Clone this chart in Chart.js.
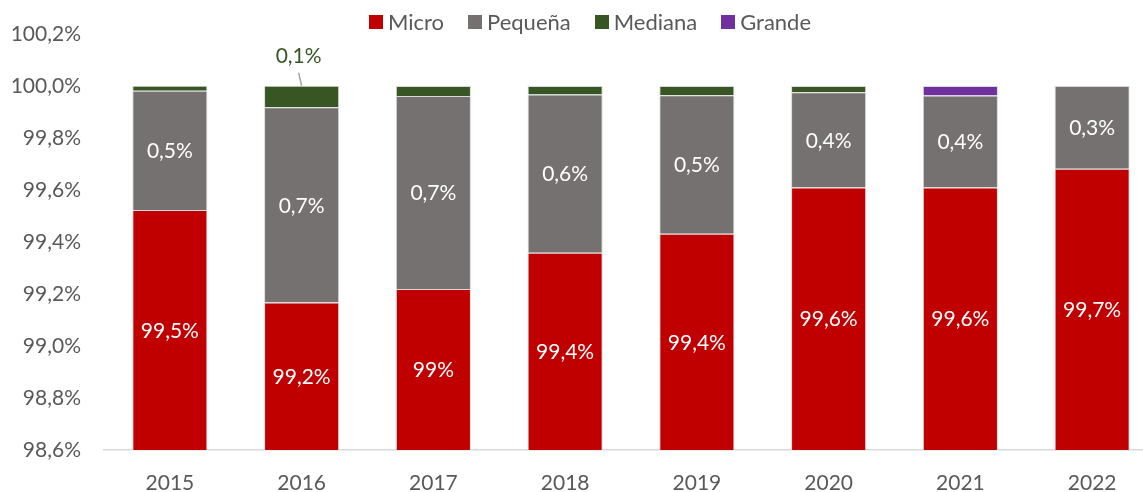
<!DOCTYPE html>
<html><head><meta charset="utf-8">
<script src="https://cdn.jsdelivr.net/npm/chart.js@4/dist/chart.umd.min.js"></script>
<style>
html,body{margin:0;padding:0;background:#fff;overflow:hidden;width:1143px;height:492px;}
#wrap{position:relative;width:1180px;height:492px;}
#legend{position:absolute;left:0;top:10px;width:1180px;display:flex;justify-content:center;gap:24px;font-family:Lato,sans-serif;font-size:22px;color:#595959;line-height:24px;z-index:2}
.item{display:flex;align-items:center;gap:5px}
.sw{width:14px;height:14px;display:inline-block}
canvas{position:absolute;left:0;top:0}
</style></head><body>
<div id="wrap"><div id="legend"></div><canvas id="c" width="1180" height="492"></canvas></div>
<script>
const years = ['2015','2016','2017','2018','2019','2020','2021','2022'];
const micro   = [99.523, 99.167, 99.219, 99.359, 99.432, 99.610, 99.610, 99.682];
const pequena = [0.459, 0.751, 0.743, 0.608, 0.532, 0.366, 0.353, 0.318];
const mediana = [0.019, 0.083, 0.038, 0.033, 0.036, 0.024, null, null];
const grande  = [null, null, null, null, null, null, 0.037, null];
const microLabels   = ['99,5%','99,2%','99%','99,4%','99,4%','99,6%','99,6%','99,7%'];
const pequenaLabels = ['0,5%','0,7%','0,7%','0,6%','0,5%','0,4%','0,4%','0,3%'];
const medianaLabels = ['','0,1%','','','','','',''];
const seriesNames = ['Micro','Pequeña','Mediana','Grande'];
const seriesColors = ['#C00000','#767171','#375623','#7030A0'];
const yMin = 98.6, yMax = 100.2, yStep = 0.2;

const FONT = 'Lato, sans-serif';
const TXT = '#595959';

const lg = document.getElementById('legend');
seriesNames.forEach((n,i)=>{
  const it = document.createElement('div'); it.className='item';
  const sw = document.createElement('span'); sw.className='sw'; sw.style.background=seriesColors[i];
  const t = document.createElement('span'); t.textContent=n;
  it.appendChild(sw); it.appendChild(t); lg.appendChild(it);
});

const segLabels = {
  id:'segLabels',
  afterDatasetsDraw(chart){
    const {ctx, chartArea} = chart;
    ctx.save();
    ctx.font = '21px ' + FONT;
    ctx.textAlign = 'center';
    ctx.textBaseline = 'middle';
    const inside = [[0, microLabels],[1, pequenaLabels]];
    inside.forEach(([di, labs])=>{
      chart.getDatasetMeta(di).data.forEach((el,i)=>{
        if(!labs[i]) return;
        const top = Math.max(el.y, chartArea.top);
        const bot = Math.min(el.base, chartArea.bottom);
        ctx.fillStyle = '#ffffff';
        ctx.fillText(labs[i], el.x, (top+bot)/2 + 1);
      });
    });
    chart.getDatasetMeta(2).data.forEach((el,i)=>{
      if(!medianaLabels[i]) return;
      const top = Math.min(el.y, el.base);
      ctx.strokeStyle = '#a6a6a6'; ctx.lineWidth = 1.5;
      ctx.beginPath(); ctx.moveTo(el.x, top); ctx.lineTo(el.x-3, top-13); ctx.stroke();
      ctx.fillStyle = '#375623';
      ctx.fillText(medianaLabels[i], el.x-3, top-30);
    });
    ctx.restore();
  }
};

const data = [micro, pequena, mediana, grande];
new Chart(document.getElementById('c'), {
  type:'bar',
  data:{
    labels: years,
    datasets: seriesNames.map((n,i)=>({
      label:n, data:data[i], backgroundColor:seriesColors[i],
      borderColor:'#d9d9d9', borderWidth:1,
      barPercentage:0.57, categoryPercentage:1
    }))
  },
  options:{
    responsive:false, animation:false, devicePixelRatio:1,
    layout:{padding:{top:34, right:22, left:0, bottom:0}},
    plugins:{legend:{display:false}, tooltip:{enabled:false}},
    scales:{
      x:{stacked:true, grid:{display:false}, border:{display:true,color:'#d9d9d9',width:1.5},
         ticks:{font:{family:FONT,size:21}, color:TXT, padding:13, maxRotation:0},
         afterFit(s){ s.height = 42; }},
      y:{stacked:true, min:yMin, max:yMax, grid:{display:false}, border:{display:false},
         ticks:{stepSize:yStep, font:{family:FONT,size:21}, color:TXT, padding:15,
           callback:(v)=> (Math.round(v*10)/10).toFixed(1).replace('.',',')+'%'},
         afterFit(s){ s.width = 104; }}
    }
  },
  plugins:[segLabels]
});
</script>
</body></html>
